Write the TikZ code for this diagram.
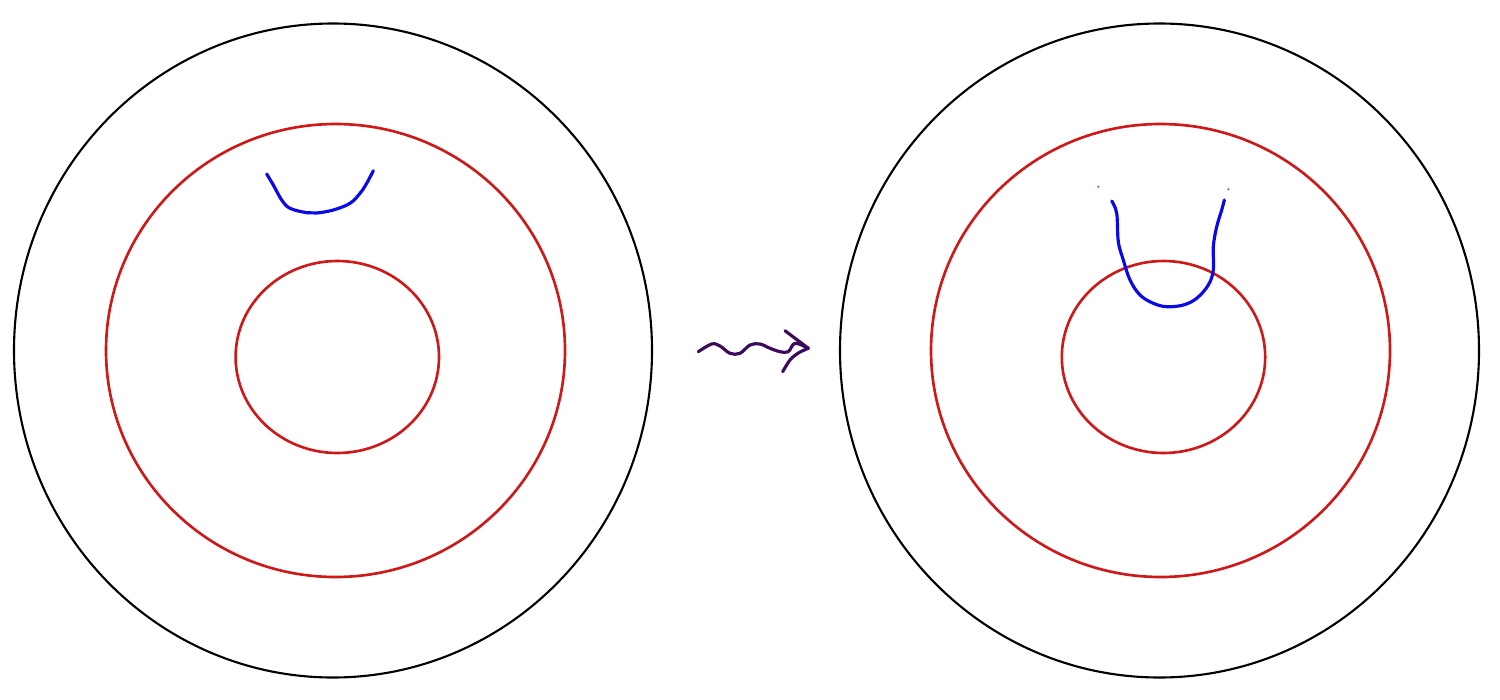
\documentclass[tikz,border=0pt]{standalone}
\definecolor{ringred}{RGB}{205,25,25}
\definecolor{curveblue}{RGB}{10,10,230}
\definecolor{dotblue}{RGB}{120,120,240}
\definecolor{squigpurple}{RGB}{60,10,90}
\begin{document}
\begin{tikzpicture}[x=0.01cm,y=-0.01cm,
  disk/.style={draw=black,line width=0.6pt},
  ring/.style={draw=ringred,line width=0.75pt},
  curve/.style={draw=curveblue,line width=0.9pt,line cap=round,line join=round},
  squig/.style={draw=squigpurple,line width=0.9pt,line cap=round,line join=round}]
\useasboundingbox (0,0) rectangle (1500,700);
% left disk
\draw[disk] (333,350.5) ellipse [x radius=319, y radius=327];
\draw[ring] (335.5,350.5) ellipse [x radius=229.5, y radius=226.5];
\draw[ring] (337.3,357) ellipse [x radius=101.7, y radius=96];
\draw[curve] plot[smooth,tension=0.6] coordinates {(266.7,174) (273.3,185) (281.7,200) (290,208.3) (306.7,212.7) (316.7,213) (333.3,210) (350,203.3) (360,193.3) (366.7,183.3) (373.3,170.7)};
% right disk
\draw[disk] (1159.5,350.5) ellipse [x radius=319.5, y radius=327];
\draw[ring] (1160.5,350.5) ellipse [x radius=229.5, y radius=226.5];
\draw[ring] (1163.5,357) ellipse [x radius=101.7, y radius=96];
\draw[curve] plot[smooth,tension=0.6] coordinates {(1111.7,201) (1116.7,213.3) (1118.3,241.7) (1123.3,260) (1130,280) (1140,295) (1153.3,303.3) (1166.7,306.7) (1183.3,305) (1196.7,298.3) (1208.3,285) (1213.3,270) (1213.3,246.7) (1216.7,226.7) (1221.7,210) (1224.3,200)};
\fill[dotblue] (1098.3,186.7) circle [radius=1.3];
\fill[dotblue] (1228.3,189.3) circle [radius=1.3];
% squiggly arrow
\draw[squig] plot[smooth,tension=0.6] coordinates {(698.3,351.7) (711.7,344) (720,346) (730,353.3) (740,353.3) (750,345) (760,344) (770,348.3) (780,351.7) (788.3,351.7) (795,343.3) (808.3,348.3)};
\draw[squig] (785,330.7) -- (808.3,348.3);
\draw[squig] plot[smooth,tension=0.6] coordinates {(808.3,348.3) (798.3,353) (790,360) (782.7,371.7)};
\end{tikzpicture}
\end{document}
